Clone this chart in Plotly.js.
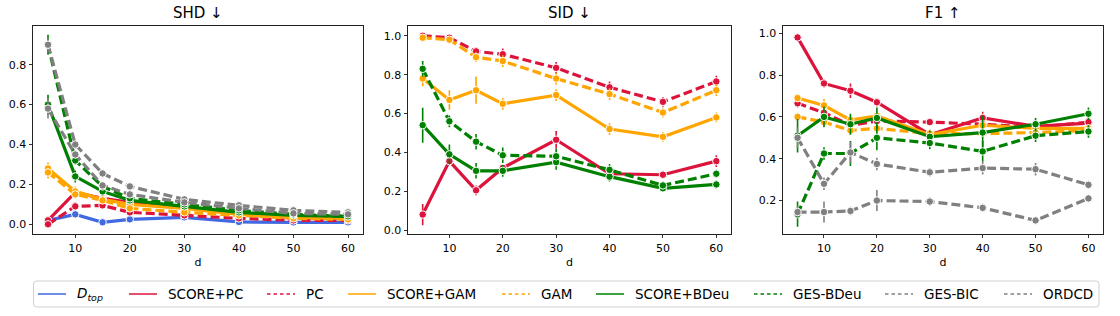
<!DOCTYPE html>
<html><head><meta charset="utf-8">
<script src="https://cdn.plot.ly/plotly-3.0.1.min.js"></script>
<style>body{margin:0;background:#fff}#c{width:1120px;height:316px}</style>
</head><body><div id="c"></div>
<script>
const d = [5, 10, 15, 20, 30, 40, 50, 60];
const methods = ["<i>D<sub>top</sub></i>", "SCORE+PC", "PC", "SCORE+GAM", "GAM", "SCORE+BDeu", "GES-BDeu", "GES-BIC", "ORDCD"];
const panelTitles = ["SHD ↓", "SID ↓", "F1 ↑"];
const xTitle = "d";

// SHD
const shd_dtop      = [0.02, 0.05, 0.01, 0.025, 0.035, 0.012, 0.01, 0.01];
const shd_scorepc   = [0.02, 0.16, 0.13, 0.11, 0.085, 0.055, 0.035, 0.03];
const shd_pc        = [0.0, 0.09, 0.095, 0.06, 0.045, 0.03, 0.02, 0.02];
const shd_scoregam  = [0.28, 0.165, 0.125, 0.10, 0.08, 0.05, 0.035, 0.03];
const shd_gam       = [0.26, 0.15, 0.12, 0.08, 0.06, 0.045, 0.03, 0.025];
const shd_scorebdeu = [0.60, 0.24, 0.165, 0.12, 0.09, 0.06, 0.045, 0.04];
const shd_gesbdeu   = [0.90, 0.32, 0.19, 0.13, 0.10, 0.07, 0.05, 0.04];
const shd_gesbic    = [0.90, 0.40, 0.255, 0.19, 0.125, 0.095, 0.07, 0.06];
const shd_ordcd     = [0.58, 0.35, 0.195, 0.15, 0.11, 0.08, 0.055, 0.05];
const shd_err_dtop      = [0.005, 0.01, 0.005, 0.005, 0.005, 0.005, 0.004, 0.004];
const shd_err_scorepc   = [0.01, 0.02, 0.01, 0.01, 0.01, 0.005, 0.005, 0.005];
const shd_err_pc        = [0.01, 0.02, 0.01, 0.01, 0.005, 0.005, 0.005, 0.005];
const shd_err_scoregam  = [0.03, 0.025, 0.015, 0.01, 0.01, 0.005, 0.005, 0.005];
const shd_err_gam       = [0.03, 0.02, 0.015, 0.01, 0.01, 0.005, 0.005, 0.005];
const shd_err_scorebdeu = [0.05, 0.03, 0.02, 0.01, 0.01, 0.005, 0.005, 0.005];
const shd_err_gesbdeu   = [0.05, 0.02, 0.015, 0.01, 0.01, 0.005, 0.005, 0.005];
const shd_err_gesbic    = [0.03, 0.02, 0.01, 0.01, 0.01, 0.005, 0.005, 0.005];
const shd_err_ordcd     = [0.05, 0.02, 0.015, 0.01, 0.01, 0.005, 0.005, 0.005];

// SID
const sid_scorepc   = [0.08, 0.355, 0.205, 0.32, 0.465, 0.29, 0.285, 0.355];
const sid_pc        = [1.0, 0.99, 0.92, 0.905, 0.835, 0.735, 0.66, 0.765];
const sid_scoregam  = [0.78, 0.67, 0.72, 0.65, 0.695, 0.52, 0.48, 0.58];
const sid_gam       = [0.99, 0.98, 0.89, 0.87, 0.78, 0.70, 0.605, 0.72];
const sid_scorebdeu = [0.54, 0.39, 0.305, 0.305, 0.35, 0.275, 0.215, 0.235];
const sid_gesbdeu   = [0.83, 0.56, 0.455, 0.385, 0.38, 0.31, 0.23, 0.29];
const sid_err_scorepc   = [0.055, 0.02, 0.025, 0.01, 0.045, 0.02, 0.02, 0.03];
const sid_err_pc        = [0.01, 0.01, 0.02, 0.03, 0.03, 0.03, 0.025, 0.03];
const sid_err_scoregam  = [0.04, 0.05, 0.07, 0.03, 0.03, 0.03, 0.025, 0.025];
const sid_err_gam       = [0.01, 0.01, 0.025, 0.03, 0.03, 0.03, 0.025, 0.03];
const sid_err_scorebdeu = [0.09, 0.05, 0.04, 0.03, 0.04, 0.025, 0.01, 0.02];
const sid_err_gesbdeu   = [0.04, 0.03, 0.04, 0.04, 0.04, 0.03, 0.02, 0.02];

// F1
const f1_scorepc   = [0.98, 0.76, 0.725, 0.67, 0.515, 0.595, 0.555, 0.57];
const f1_pc        = [0.665, 0.62, 0.56, 0.58, 0.575, 0.565, 0.55, 0.575];
const f1_scoregam  = [0.69, 0.655, 0.585, 0.605, 0.515, 0.56, 0.545, 0.545];
const f1_gam       = [0.60, 0.575, 0.535, 0.545, 0.52, 0.52, 0.525, 0.535];
const f1_scorebdeu = [0.51, 0.60, 0.565, 0.595, 0.505, 0.525, 0.565, 0.615];
const f1_gesbdeu   = [0.135, 0.425, 0.425, 0.50, 0.475, 0.435, 0.51, 0.53];
const f1_gesbic    = [0.50, 0.28, 0.43, 0.375, 0.335, 0.355, 0.35, 0.275];
const f1_ordcd     = [0.145, 0.145, 0.15, 0.20, 0.195, 0.165, 0.105, 0.21];
const f1_err_scorepc   = [0.01, 0.02, 0.035, 0.02, 0.02, 0.03, 0.02, 0.02];
const f1_err_pc        = [0.02, 0.02, 0.02, 0.02, 0.01, 0.02, 0.02, 0.02];
const f1_err_scoregam  = [0.02, 0.03, 0.02, 0.02, 0.02, 0.02, 0.02, 0.02];
const f1_err_gam       = [0.02, 0.02, 0.02, 0.02, 0.02, 0.02, 0.02, 0.02];
const f1_err_scorebdeu = [0.08, 0.05, 0.05, 0.05, 0.03, 0.08, 0.03, 0.03];
const f1_err_gesbdeu   = [0.06, 0.03, 0.06, 0.06, 0.03, 0.05, 0.03, 0.03];
const f1_err_gesbic    = [0.05, 0.03, 0.05, 0.03, 0.02, 0.03, 0.03, 0.02];
const f1_err_ordcd     = [0.03, 0.05, 0.02, 0.05, 0.02, 0.02, 0.01, 0.01];

const colors = ["#4169E1", "#DC143C", "#DC143C", "#FFA500", "#FFA500", "#008000", "#008000", "#808080", "#808080"];
const dashed = [false, false, true, false, true, false, true, true, true];

const panels = [
  [shd_dtop, shd_scorepc, shd_pc, shd_scoregam, shd_gam, shd_scorebdeu, shd_gesbdeu, shd_gesbic, shd_ordcd],
  [null, sid_scorepc, sid_pc, sid_scoregam, sid_gam, sid_scorebdeu, sid_gesbdeu, null, null],
  [null, f1_scorepc, f1_pc, f1_scoregam, f1_gam, f1_scorebdeu, f1_gesbdeu, f1_gesbic, f1_ordcd]
];
const panelErrs = [
  [shd_err_dtop, shd_err_scorepc, shd_err_pc, shd_err_scoregam, shd_err_gam, shd_err_scorebdeu, shd_err_gesbdeu, shd_err_gesbic, shd_err_ordcd],
  [null, sid_err_scorepc, sid_err_pc, sid_err_scoregam, sid_err_gam, sid_err_scorebdeu, sid_err_gesbdeu, null, null],
  [null, f1_err_scorepc, f1_err_pc, f1_err_scoregam, f1_err_gam, f1_err_scorebdeu, f1_err_gesbdeu, f1_err_gesbic, f1_err_ordcd]
];

const traces = [];
panels.forEach((series, p) => {
  const ax = p === 0 ? "" : String(p + 1);
  series.forEach((vals, m) => {
    if (!vals) return;
    traces.push({
      x: d, y: vals, type: "scatter", mode: "lines+markers",
      xaxis: "x" + ax, yaxis: "y" + ax, showlegend: false, name: methods[m],
      line: {color: colors[m], width: 3.2, dash: dashed[m] ? "9px,4px" : "solid"},
      marker: {color: colors[m], size: 7.5, line: {color: "#fff", width: 1}},
      error_y: {type: "data", array: panelErrs[p][m], visible: true, color: colors[m], thickness: 1.6, width: 0},
      hoverinfo: "skip"
    });
  });
});

const W = 1120, H = 316;
const px = v => v / W, py = v => 1 - v / H;
const font = {family: "DejaVu Sans", size: 11, color: "#000"};
function xa(dom) {
  return {domain: dom, range: [2.25, 62.75], tickvals: [10, 20, 30, 40, 50, 60],
    ticks: "outside", ticklen: 3.5, tickwidth: 0.8, tickcolor: "#000",
    showline: true, mirror: true, linecolor: "#222", linewidth: 1, showgrid: false, zeroline: false,
    tickfont: font, title: {text: xTitle, font: font, standoff: 4}};
}
function ya(rng, anchor) {
  return {domain: [0.2595, 0.9193], range: rng, anchor: anchor, tickvals: [0, 0.2, 0.4, 0.6, 0.8, 1.0], tickformat: ".1f",
    ticks: "outside", ticklen: 3.5, tickwidth: 0.8, tickcolor: "#000",
    showline: true, mirror: true, linecolor: "#222", linewidth: 1, showgrid: false, zeroline: false, tickfont: font};
}
const doms = [[33/W, 363/W], [408/W, 731/W], [783/W, 1103/W]];

// legend box (rounded) and entries, laid out in pixels
const bx0 = 33.5, bx1 = 1099, by0 = 281, by1 = 307, r = 3;
const boxPath = `M${px(bx0 + r)},${py(by0)} L${px(bx1 - r)},${py(by0)} Q${px(bx1)},${py(by0)} ${px(bx1)},${py(by0 + r)} ` +
  `L${px(bx1)},${py(by1 - r)} Q${px(bx1)},${py(by1)} ${px(bx1 - r)},${py(by1)} L${px(bx0 + r)},${py(by1)} ` +
  `Q${px(bx0)},${py(by1)} ${px(bx0)},${py(by1 - r)} L${px(bx0)},${py(by0 + r)} Q${px(bx0)},${py(by0)} ${px(bx0 + r)},${py(by0)} Z`;
const legendLineX = [38, 129, 267, 348, 502, 596, 754, 885, 1004];
const legY = 294;
const shapes = [{type: "path", xref: "paper", yref: "paper", path: boxPath, line: {color: "#d0d0d0", width: 1}, fillcolor: "#fff", layer: "below"}];
const annotations = panelTitles.map((t, i) => ({
  text: t, xref: "paper", yref: "paper", x: (doms[i][0] + doms[i][1]) / 2, y: py(13),
  xanchor: "center", yanchor: "middle", showarrow: false, font: {family: "DejaVu Sans", size: 15, color: "#000"}
}));
methods.forEach((name, m) => {
  const x0 = legendLineX[m];
  shapes.push({type: "line", xref: "paper", yref: "paper", x0: px(x0), x1: px(x0 + 28), y0: py(legY), y1: py(legY),
    line: {color: colors[m], width: 1.5, dash: dashed[m] ? "3.5px,3px" : "solid"}});
  annotations.push({text: name, xref: "paper", yref: "paper", x: px(x0 + 37), y: py(legY), xanchor: "left", yanchor: "middle",
    showarrow: false, font: {family: "DejaVu Sans", size: 13.5, color: "#000"}});
});

const layout = {
  width: W, height: H, margin: {l: 0, r: 0, t: 0, b: 0},
  paper_bgcolor: "#fff", plot_bgcolor: "#fff", font: {family: "DejaVu Sans", color: "#000"},
  xaxis: Object.assign(xa(doms[0]), {anchor: "y"}),
  xaxis2: Object.assign(xa(doms[1]), {anchor: "y2"}),
  xaxis3: Object.assign(xa(doms[2]), {anchor: "y3"}),
  yaxis: ya([-0.0485, 0.9965], "x"),
  yaxis2: ya([-0.02, 1.053], "x2"),
  yaxis3: ya([0.04, 1.037], "x3"),
  showlegend: false,
  shapes: shapes,
  annotations: annotations
};
Plotly.newPlot("c", traces, layout, {displayModeBar: false, staticPlot: true});
</script></body></html>
